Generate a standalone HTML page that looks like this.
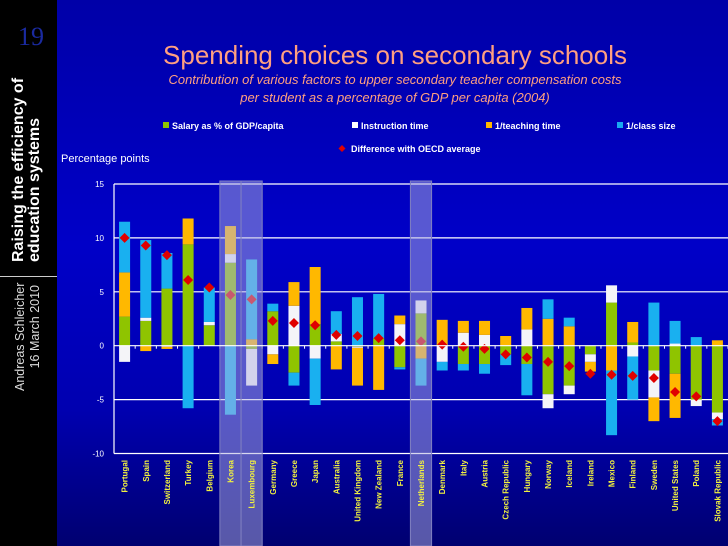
<!DOCTYPE html>
<html><head><meta charset="utf-8"><style>
body{margin:0;width:728px;height:546px;overflow:hidden;background:#000;font-family:"Liberation Sans",sans-serif}
#main{position:absolute;left:57px;top:0;width:671px;height:546px;background:linear-gradient(#0000a8 0%,#0000c8 45%,#0000b0 75%,#000070 100%)}
.side{position:absolute;color:#fff;transform:rotate(-90deg);transform-origin:left top;white-space:nowrap}
</style></head><body>
<div style="position:absolute;left:0;top:0;width:57px;height:546px;background:#000">
<div style="position:absolute;left:18px;top:22px;color:#1a2aa0;font:26px 'Liberation Serif',serif">19</div>
<div class="side" style="left:11px;top:262px;font-weight:bold;font-size:16px;line-height:16px">Raising the efficiency of<br>education systems</div>
<div style="position:absolute;left:0;top:276px;width:57px;height:1px;background:#ccc"></div>
<div class="side" style="left:13px;top:391px;width:106px;font-size:12.5px;line-height:15px;color:#ddd;text-align:right">Andreas Schleicher<br>16 March 2010</div>
</div>
<div id="main"></div>
<svg id="chart" width="728" height="546" style="position:absolute;left:0;top:0;font-family:'Liberation Sans',sans-serif">
<text x="395" y="64" text-anchor="middle" fill="#ff9f80" font-size="26">Spending choices on secondary schools</text>
<text x="395" y="84" text-anchor="middle" fill="#ff9f80" font-size="13" font-style="italic">Contribution of various factors to upper secondary teacher compensation costs</text>
<text x="395" y="102" text-anchor="middle" fill="#ff9f80" font-size="13" font-style="italic">per student as a percentage of GDP per capita (2004)</text>
<text x="61" y="162" fill="#fff" font-size="11">Percentage points</text>
<g id="legend" font-size="9" font-weight="bold" fill="#fff"></g>
<g id="bands"></g><g id="grid"></g><g id="bars"></g><g id="marks"></g><g id="labels"></g>
</svg>
<script>
const countries=["Portugal","Spain","Switzerland","Turkey","Belgium","Korea","Luxembourg","Germany","Greece","Japan","Australia","United Kingdom","New Zealand","France","Netherlands","Denmark","Italy","Austria","Czech Republic","Hungary","Norway","Iceland","Ireland","Mexico","Finland","Sweden","United States","Poland","Slovak Republic"];
const salary=[2.7,2.3,5.3,9.4,1.9,7.7,-0.3,3.2,-2.5,2.0,0.4,-0.1,0.7,-2.0,3.0,0,-1.7,-1.7,-0.8,-1.7,-4.5,-3.7,-0.8,4.0,0.3,-2.3,-2.6,-5.0,-6.2];
const instruction=[-1.5,0.3,-0.1,0,0.3,0.8,-3.4,-0.8,3.7,-1.2,0.7,-0.1,0,2.0,1.2,-1.5,1.2,1.0,0,1.5,-1.3,-0.8,-0.7,1.6,-1.0,-2.5,0.2,-0.6,-0.6];
const teaching=[4.1,-0.5,-0.2,2.4,0,2.6,0.6,-0.9,2.2,5.3,-2.2,-3.5,-4.1,0.8,-1.2,2.4,1.1,1.3,0.9,2.0,2.5,1.8,-0.9,-2.3,1.9,-2.2,-4.1,0,0.5];
const classSize=[4.7,7.2,3.3,-5.8,3.2,-6.4,7.4,0.7,-1.2,-4.3,2.1,4.5,4.1,-0.2,-2.5,-0.8,-0.6,-0.9,-1.0,-2.9,1.8,0.8,0,-6.0,-4.0,4.0,2.1,0.8,-0.6];
const diff=[10.0,9.3,8.4,6.1,5.4,4.7,4.3,2.3,2.1,1.9,1.0,0.9,0.7,0.5,0.4,0.1,-0.1,-0.3,-0.8,-1.1,-1.5,-1.9,-2.6,-2.7,-2.8,-3.0,-4.3,-4.7,-7.0];
const highlighted=["Korea","Luxembourg","Netherlands"];
const yTicks=[15,10,5,0,-5,-10];
const NS="http://www.w3.org/2000/svg";
const X0=114,X1=728,Y15=184,Y0=453.5,VMIN=-10,VMAX=15;
const bw=(X1-X0)/countries.length;
function y(v){return Y0-(v-VMIN)/(VMAX-VMIN)*(Y0-Y15);}
function xc(i){return X0+bw*(i+0.5);}
function mk(tag,attrs,parent){const e=document.createElementNS(NS,tag);for(const k in attrs)e.setAttribute(k,attrs[k]);parent.appendChild(e);return e;}
const G=id=>document.getElementById(id);
const leg=[["Salary as % of GDP/capita","#8fc400",163,129],["Instruction time","#fff",352,129],["1/teaching time","#ffb800",486,129],["1/class size","#19a8f0",617,129]];
leg.forEach(l=>{const r=mk('rect',{x:l[2],y:l[3]-7,width:6,height:6,fill:l[1]},G('legend'));


const t=mk('text',{x:l[2]+9,y:l[3]},G('legend'));t.textContent=l[0];

});
const ld=mk('path',{d:"M342 145 l3.5 3.5 l-3.5 3.5 l-3.5 -3.5z",fill:"#e00000"},G('legend'));


const lt=mk('text',{x:351,y:152},G('legend'));lt.textContent="Difference with OECD average";


yTicks.forEach(v=>{if(v!==0){const l=mk('line',{x1:X0,x2:X1,y1:y(v),y2:y(v),stroke:'#fff','stroke-width':1.2},G('grid'));

}
const t=mk('text',{x:104,y:y(v)+3,'text-anchor':'end',fill:'#fff','font-size':8},G('grid'));t.textContent=v;

});
const ax=mk('line',{x1:X0,x2:X0,y1:Y15,y2:Y0,stroke:'#fff','stroke-width':1.2},G('grid'));


const series=[[salary,'#8fc400'],[instruction,'#f4f4f8'],[teaching,'#ffb800'],[classSize,'#19b0f0']];
countries.forEach((c,i)=>{let pos=0,neg=0;const w=bw*0.52;
series.forEach(s=>{const v=s[0][i];if(!v)return;let a,b;
if(v>0){a=pos;b=pos+v;pos=b;}else{a=neg+v;b=neg;neg=a;}
const r=mk('rect',{x:xc(i)-w/2,y:y(b),width:w,height:y(a)-y(b),fill:s[1]},G('bars'));

});
const d=mk('path',{d:`M${xc(i)} ${y(diff[i])-5} l5 5 l-5 5 l-5 -5z`,fill:'#e00000'},G('marks'));


const t=mk('text',{transform:`translate(${xc(i)+3},460) rotate(-90)`,'text-anchor':'end',fill:'#f0f040','font-size':8,'font-weight':'bold'},G('labels'));t.textContent=c;


const tk=mk('line',{x1:X0+bw*(i+1),x2:X0+bw*(i+1),y1:y(0),y2:y(0)+3,stroke:'#fff'},G('grid'));


if(highlighted.includes(c)){const b=mk('rect',{x:xc(i)-bw/2,y:181,width:bw,height:365,fill:'#b0b0e0','fill-opacity':0.5,stroke:'#8080c0'},G('marks'));

}});
const z=mk('line',{x1:X0,x2:X1,y1:y(0),y2:y(0),stroke:'#fff','stroke-width':1.2},G('marks'));


</script>
</body></html>
